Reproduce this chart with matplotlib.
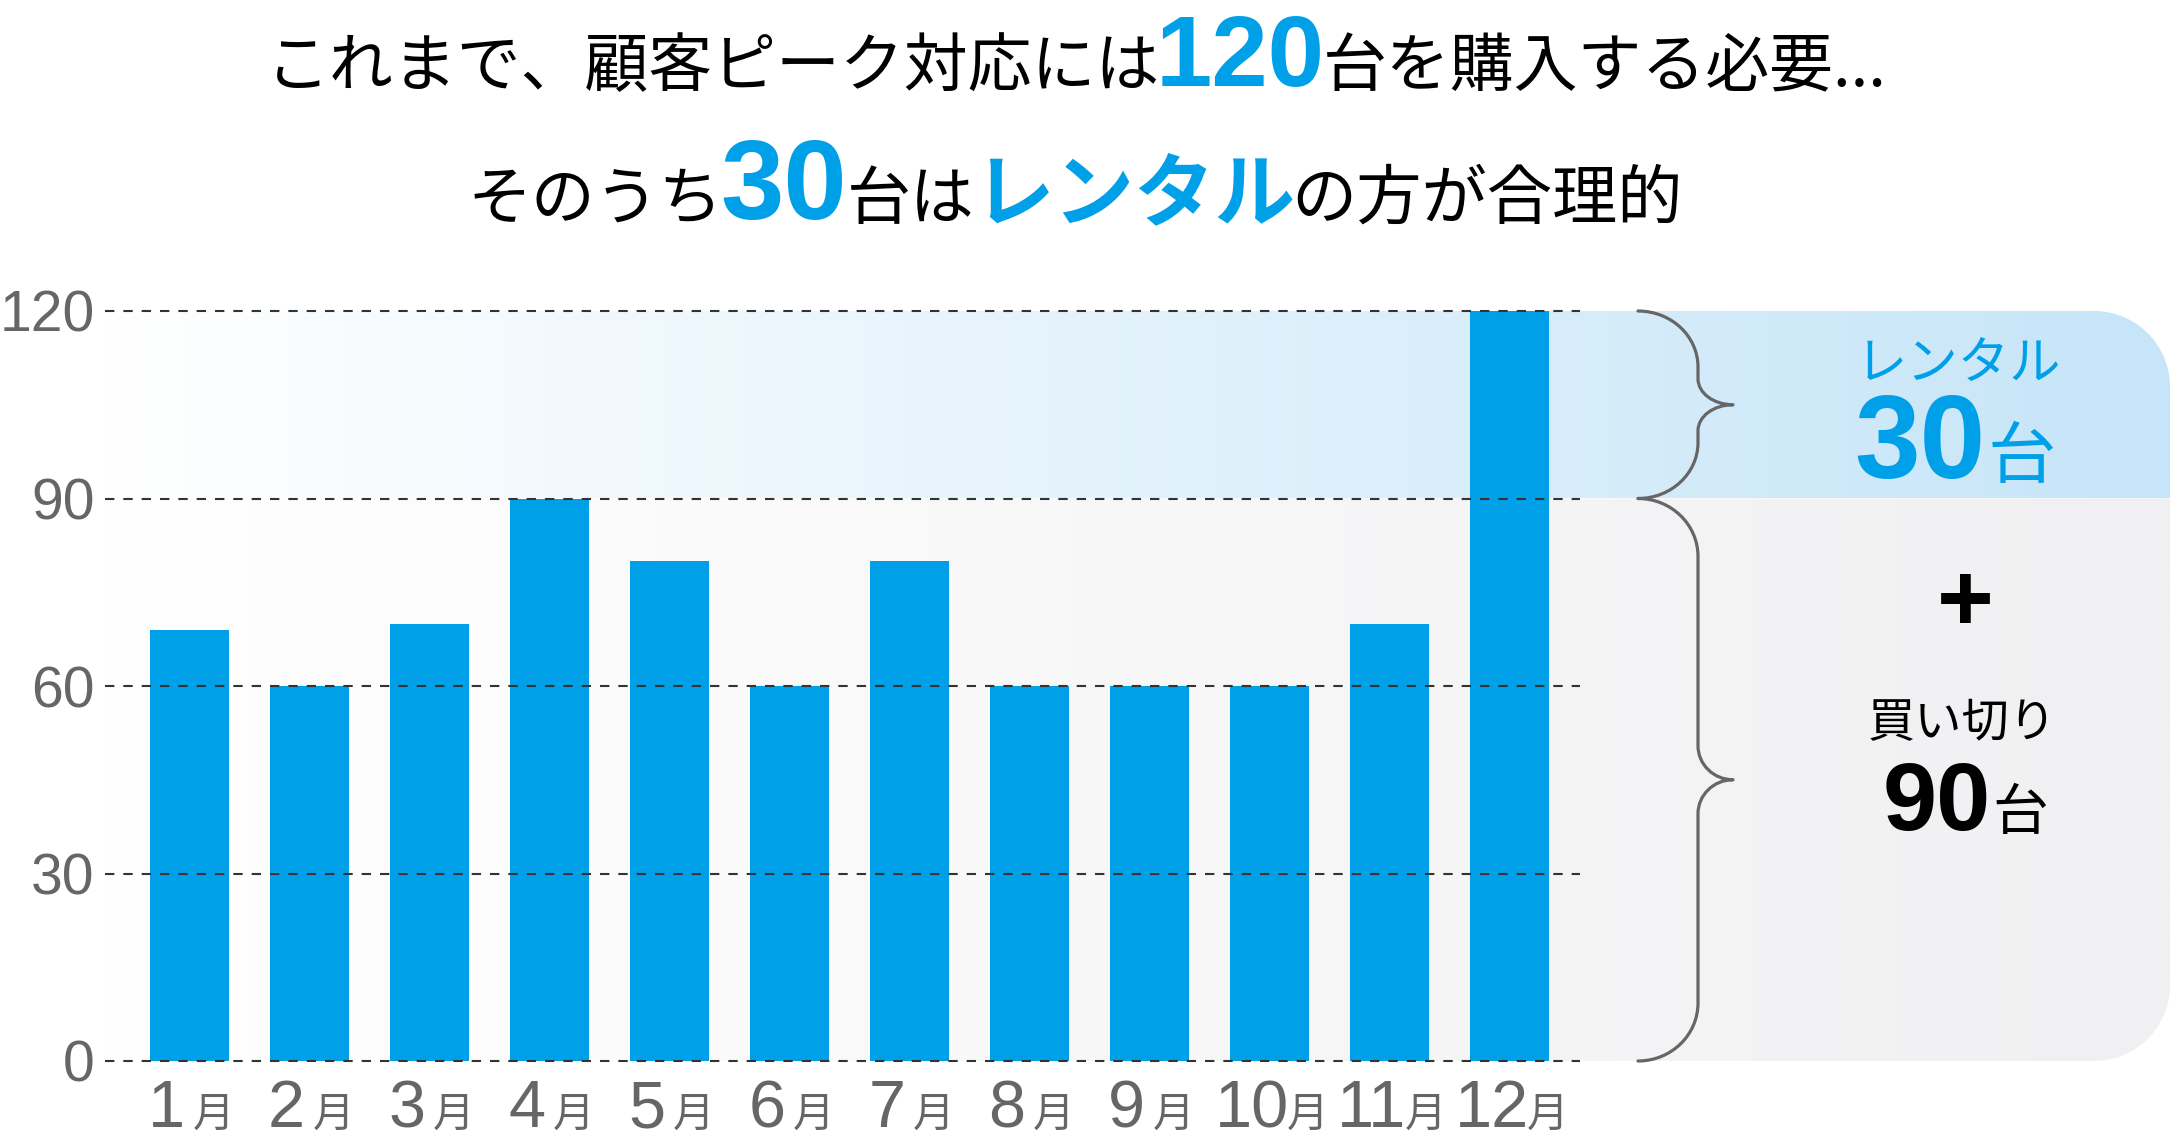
import numpy as np
import matplotlib
matplotlib.use("Agg")
import matplotlib.pyplot as plt
from matplotlib.path import Path
from matplotlib.patches import PathPatch
from matplotlib.colors import to_rgb

# ---------------- data ----------------
month_numbers = ["1", "2", "3", "4", "5", "6", "7", "8", "9", "10", "11", "12"]
month_unit = "月"
units_needed = [69, 60, 70, 90, 80, 60, 80, 60, 60, 60, 70, 120]
y_ticks = [0, 30, 60, 90, 120]
peak_units = max(units_needed)
purchase_units = 90
rental_units = peak_units - purchase_units

title1_pre = "これまで、顧客ピーク対応には"
title1_post = "台を購入する必要..."
title2_a = "そのうち"
title2_b = "台は"
title2_rental = "レンタル"
title2_end = "の方が合理的"
rental_label = "レンタル"
purchase_label = "買い切り"
unit_label = "台"
plus_label = "+"

# ---------------- style ----------------
W, H, DPI = 2170, 1137, 100
BLUE = "#00A0E9"
TICK_GRAY = "#666666"
GRID = "#333333"
BRACE = "#666666"
JP = ["Noto Sans CJK JP", "DejaVu Sans"]
NUM = ["Liberation Sans", "DejaVu Sans"]
plt.rcParams["font.family"] = JP

fig = plt.figure(figsize=(W / DPI, H / DPI), dpi=DPI)
fig.patch.set_facecolor("white")

deco = fig.add_axes([0, 0, 1, 1], zorder=0)
deco.axis("off")

ax_l, ax_r, ax_t, ax_b = 105, 1580, 311, 1061
ax = fig.add_axes([ax_l / W, (H - ax_b) / H, (ax_r - ax_l) / W, (ax_b - ax_t) / H], zorder=1)
ax.patch.set_alpha(0)
xs = np.arange(len(units_needed))
ax.bar(xs, units_needed, width=0.66, color=BLUE, zorder=2, linewidth=0)
ax.set_xlim(-0.704, len(units_needed) - 1 + 0.587)
ax.set_ylim(0, peak_units)
for v in y_ticks:
    ax.axhline(v, color=GRID, lw=1.5, dashes=(4.5, 4.3), zorder=3, clip_on=False)
ax.set_yticks(y_ticks)
ax.set_yticklabels([str(v) for v in y_ticks])
ax.tick_params(axis="y", length=0, pad=7.5, labelsize=41, labelcolor=TICK_GRAY)
for lab in ax.get_yticklabels():
    lab.set_family(NUM)
ax.set_xticks([])
for s in ax.spines.values():
    s.set_visible(False)


def yimg(v):
    return H - ax.transData.transform((0, v))[1]


def ximg(xv):
    return ax.transData.transform((xv, 0))[0]


# ---------------- background bands ----------------
def rounded_band(x0, x1, ytop, ybot, r, corner, right_color):
    th = np.linspace(0, np.pi / 2, 40)
    if corner == "top":
        cx_, cy_ = x1 - r, ytop + r
        arc = np.column_stack([cx_ + r * np.sin(th), cy_ - r * np.cos(th)])
        verts = np.vstack([[x0, ybot], [x0, ytop], arc, [x1, ybot], [x0, ybot]])
    else:
        cx_, cy_ = x1 - r, ybot - r
        arc = np.column_stack([cx_ + r * np.cos(th), cy_ + r * np.sin(th)])
        verts = np.vstack([[x0, ytop], [x1, ytop], arc, [x0, ybot], [x0, ytop]])
    patch = PathPatch(Path(verts), facecolor="none", edgecolor="none", transform=deco.transData)
    deco.add_patch(patch)
    rgb = np.array(to_rgb(right_color))
    t = np.linspace(0, 1, 256)
    grad = (1 - t)[:, None] * np.ones(3) + t[:, None] * rgb
    im = deco.imshow(grad[None, :, :], extent=[x0, x1, ybot, ytop], aspect="auto",
                     interpolation="bilinear", zorder=0)
    im.set_clip_path(patch)


y_peak = yimg(peak_units)
y_purchase = yimg(purchase_units)
y_zero = yimg(0)
rounded_band(ax_l, W, y_peak, y_purchase, 76, "top", "#C6E5F8")
rounded_band(ax_l, W, y_purchase, y_zero, 76, "bottom", "#F0F0F2")


# ---------------- braces ----------------
def brace(y_a, y_b, r1, r2, x_end=1638, x_line=1698, x_tip=1733):
    k = 0.5523
    ym = (y_a + y_b) / 2
    dx1 = x_line - x_end
    dx2 = x_tip - x_line
    verts = [(x_end, y_a),
             (x_end + k * dx1, y_a), (x_line, y_a + r1 - k * r1), (x_line, y_a + r1),
             (x_line, ym - r2),
             (x_line, ym - r2 + k * r2), (x_tip - k * dx2, ym), (x_tip, ym),
             (x_tip - k * dx2, ym), (x_line, ym + r2 - k * r2), (x_line, ym + r2),
             (x_line, y_b - r1),
             (x_line, y_b - r1 + k * r1), (x_end + k * dx1, y_b), (x_end, y_b)]
    codes = ([Path.MOVETO] + [Path.CURVE4] * 3 + [Path.LINETO] + [Path.CURVE4] * 6
             + [Path.LINETO] + [Path.CURVE4] * 3)
    deco.add_patch(PathPatch(Path(verts, codes), facecolor="none", edgecolor=BRACE,
                             lw=2.3, capstyle="round", joinstyle="round", zorder=5))


brace(y_peak, y_purchase, 56, 26)
brace(y_purchase, y_zero, 58, 34)

# ---------------- text runs ----------------
renderer = fig.canvas.get_renderer()


def runs(items, cx, base):
    objs = []
    for s, kw, g in items:
        t = deco.text(0, base, s, ha="left", va="baseline", zorder=6, **kw)
        objs.append((t, g))
    widths = [t.get_window_extent(renderer).width for t, g in objs]
    total = sum(widths) + sum(g for t, g in objs[:-1])
    xc = cx - total / 2
    for (t, g), w in zip(objs, widths):
        t.set_x(xc)
        xc += w + g


def jp(size, color="black", weight="normal"):
    return dict(family=JP, fontsize=size, color=color, fontweight=weight)


def num(size, color="black", weight="bold"):
    return dict(family=NUM, fontsize=size, color=color, fontweight=weight)


# title
runs([(title1_pre, jp(46), -4),
      (str(peak_units), num(73, BLUE), -2),
      (title1_post, jp(46), 0)], 1076, 86)
runs([(title2_a, jp(46), -2),
      (str(rental_units), num(82, BLUE), 0),
      (title2_b, jp(46), -2),
      (title2_rental, jp(58, BLUE, "bold"), -4),
      (title2_end, jp(47), 0)], 1075, 219)

# right panel
runs([(rental_label, jp(37, BLUE), 0)], 1958, 379)
runs([(str(rental_units), num(85, BLUE), 2), (unit_label, jp(49, BLUE), 0)], 1955, 478)
runs([(plus_label, num(70, "black"), 0)], 1965, 631)
runs([(purchase_label, jp(34), 0)], 1962, 737)
runs([(str(purchase_units), num(70, "black"), 2), (unit_label, jp(40), 0)], 1965, 830)

# x labels
for i, m in enumerate(month_numbers):
    gap = 8 if len(m) == 1 else -2
    runs([(m, num(48, TICK_GRAY, "normal"), gap), (month_unit, jp(30, TICK_GRAY), 0)],
         ximg(i) + 2, 1127)

deco.set_xlim(0, W)
deco.set_ylim(H, 0)

fig.savefig("out.png", dpi=DPI, facecolor="white")
